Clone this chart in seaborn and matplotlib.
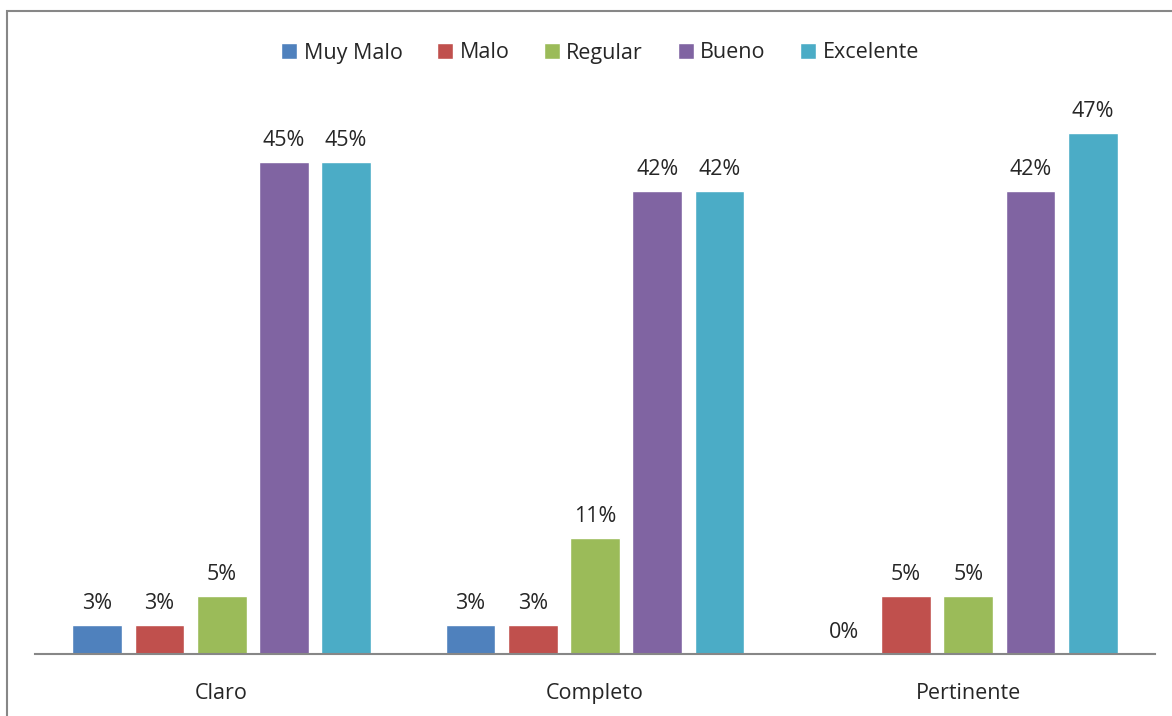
import matplotlib
matplotlib.use("Agg")
import matplotlib.pyplot as plt
import seaborn as sns
import pandas as pd
from matplotlib.patches import Rectangle

categories = ["Claro", "Completo", "Pertinente"]
series = ["Muy Malo", "Malo", "Regular", "Bueno", "Excelente"]
muy_malo = [2.63, 2.63, 0.0]
malo = [2.63, 2.63, 5.26]
regular = [5.26, 10.53, 5.26]
bueno = [44.74, 42.11, 42.11]
excelente = [44.74, 42.11, 47.37]
colors = ["#4F81BD", "#C0504D", "#9BBB59", "#8064A2", "#4BACC6"]

rows = []
for s, vals in zip(series, [muy_malo, malo, regular, bueno, excelente]):
    for c, v in zip(categories, vals):
        rows.append({"cat": c, "serie": s, "val": v})
df = pd.DataFrame(rows)

sns.set_style("white")
plt.rcParams['font.family'] = ['Open Sans', 'DejaVu Sans']
FS = 15.5

W, H = 1172, 716
fig = plt.figure(figsize=(W / 100, H / 100), dpi=100)
ax = fig.add_axes([35 / W, (H - 654) / H, (1155 - 35) / W, (654 - 104) / H])

sns.barplot(data=df, x="cat", y="val", hue="serie", order=categories,
            hue_order=series, palette=colors, width=0.8333, gap=0.2,
            saturation=1, ax=ax, legend=True)

ax.set_ylim(0, 50)
ax.set_xlim(-0.5, 2.5)
ax.set_xlabel("")
ax.set_ylabel("")
ax.set_yticks([])
for side in ["left", "right", "top"]:
    ax.spines[side].set_visible(False)
ax.spines["bottom"].set_color("#878787")
ax.spines["bottom"].set_linewidth(1.5)
ax.tick_params(axis="x", length=0, pad=21, labelsize=FS)

for cont in ax.containers:
    ax.bar_label(cont, labels=[f"{v:.0f}%" for v in cont.datavalues],
                 padding=8, fontsize=FS)

handles, labels = ax.get_legend_handles_labels()
ax.get_legend().remove()
fig.legend(handles, labels, loc="center", bbox_to_anchor=(600 / W, 1 - 53 / H),
           ncol=5, frameon=False, fontsize=FS, handlelength=0.75,
           handleheight=0.75, handletextpad=0.3, columnspacing=1.6)

fig.patches.append(Rectangle((6.5 / W, -0.1), 2, (H - 10.5) / H + 0.1,
                             transform=fig.transFigure, fill=False,
                             edgecolor="#878787", linewidth=1.5))

fig.savefig("out.png", dpi=100, facecolor="white")
